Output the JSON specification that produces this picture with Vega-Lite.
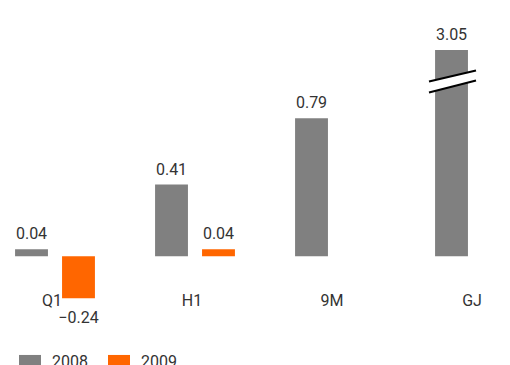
{
  "$schema": "https://vega.github.io/schema/vega-lite/v6.json",
  "width": 502,
  "height": 250,
  "autosize": {"type": "none"},
  "padding": {"left": 8, "top": 50, "right": 0, "bottom": 65},
  "config": {
    "view": {"stroke": null},
    "font": "Roboto",
    "axis": {"labelFont": "Roboto", "labelFontSize": 16, "labelColor": "#333333"},
    "legend": {"labelFont": "Roboto", "labelFontSize": 16, "labelColor": "#333333"}
  },
  "datasets": {
    "bars": [
      {"period": "Q1", "year": "2008", "value": 0.04},
      {"period": "Q1", "year": "2009", "value": -0.24},
      {"period": "H1", "year": "2008", "value": 0.41},
      {"period": "H1", "year": "2009", "value": 0.04},
      {"period": "9M", "year": "2008", "value": 0.79},
      {"period": "GJ", "year": "2008", "value": 3.05}
    ],
    "brkWhite": [{"ya": 0.9685, "yb": 1.0345}],
    "brkBlack": [{"ya": 1.0, "yb": 1.063}, {"ya": 0.937, "yb": 1.006}]
  },
  "layer": [
    {
      "data": {"name": "bars"},
      "mark": {"type": "bar"},
      "encoding": {
        "x": {
          "field": "period", "type": "nominal", "sort": ["Q1", "H1", "9M", "GJ"],
          "scale": {"range": [-23, 537], "paddingInner": 0, "paddingOuter": 0},
          "axis": {"title": null, "domain": false, "ticks": false, "labelAngle": 0, "labelPadding": -8, "labelOffset": -3}
        },
        "xOffset": {"field": "year", "type": "nominal", "scale": {"domain": ["2008", "2009"], "paddingInner": 0.3, "paddingOuter": 0.64}},
        "y": {"field": "value", "type": "quantitative", "scale": {"domain": [-0.25, 1.18], "nice": false, "zero": false, "clamp": true}, "axis": null},
        "y2": {"datum": 0},
        "color": {
          "field": "year", "type": "nominal",
          "scale": {"domain": ["2008", "2009"], "range": ["#808080", "#FF6600"]},
          "legend": {
            "title": null, "orient": "none", "direction": "horizontal", "legendX": 11, "legendY": 301,
            "padding": 0, "symbolType": "M-1,-0.64H1V0.64H-1Z", "symbolSize": 484, "symbolStrokeWidth": 0,
            "labelOffset": 11, "columnPadding": 20
          }
        }
      }
    },
    {
      "data": {"name": "bars"},
      "transform": [{"filter": "datum.value >= 0"}],
      "mark": {"type": "text", "baseline": "bottom", "dy": -7, "fontSize": 16, "color": "#333333"},
      "encoding": {
        "x": {"field": "period", "type": "nominal", "sort": ["Q1", "H1", "9M", "GJ"]},
        "xOffset": {"field": "year", "type": "nominal"},
        "y": {"field": "value", "type": "quantitative"},
        "text": {"field": "value", "type": "quantitative", "format": ".2f"}
      }
    },
    {
      "data": {"name": "bars"},
      "transform": [{"filter": "datum.value < 0"}],
      "mark": {"type": "text", "baseline": "top", "dy": 12, "fontSize": 16, "color": "#333333"},
      "encoding": {
        "x": {"field": "period", "type": "nominal", "sort": ["Q1", "H1", "9M", "GJ"]},
        "xOffset": {"field": "year", "type": "nominal"},
        "y": {"field": "value", "type": "quantitative"},
        "text": {"field": "value", "type": "quantitative", "format": ".2f"}
      }
    },
    {
      "mark": {"type": "rule", "color": "#000000", "strokeWidth": 2},
      "encoding": {"y": {"datum": 0}}
    },
    {
      "data": {"name": "brkWhite"},
      "mark": {"type": "rule", "color": "#ffffff", "strokeWidth": 10, "xOffset": -46, "x2Offset": 1},
      "encoding": {
        "x": {"datum": "GJ"}, "x2": {"datum": "GJ"},
        "y": {"field": "ya", "type": "quantitative"}, "y2": {"field": "yb"}
      }
    },
    {
      "data": {"name": "brkBlack"},
      "mark": {"type": "rule", "color": "#000000", "strokeWidth": 2, "xOffset": -46, "x2Offset": 1},
      "encoding": {
        "x": {"datum": "GJ"}, "x2": {"datum": "GJ"},
        "y": {"field": "ya", "type": "quantitative"}, "y2": {"field": "yb"}
      }
    }
  ]
}
